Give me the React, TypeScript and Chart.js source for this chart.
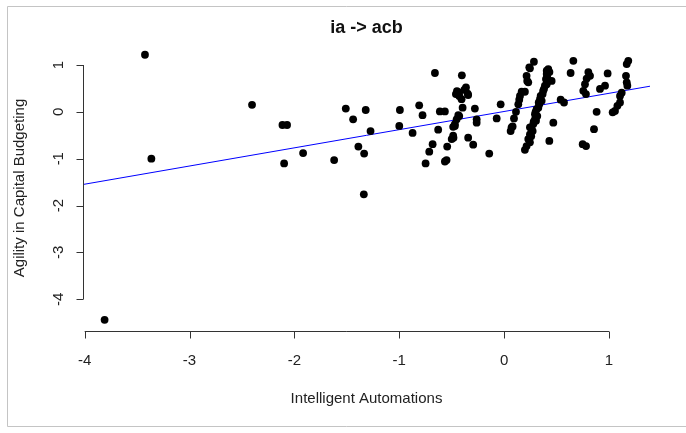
import React, { useEffect, useRef } from "react";
import { Chart, registerables } from "chart.js";

Chart.register(...registerables);

const TITLE = "ia -> acb";
const X_LABEL = "Intelligent Automations";
const Y_LABEL = "Agility in Capital Budgeting";

const xTicks = [-4, -3, -2, -1, 0, 1];
const yTicks = [-4, -3, -2, -1, 0, 1];

const X_MIN = -4.016;
const X_MAX = 1.391;
const Y_MIN = -4.7;
const Y_MAX = 1.449;

const fitIntercept = 0.008;
const fitSlope = 0.388;

const xVals = [
  -3.81, -3.425, -3.364, -2.404, -2.114, -2.07, -2.098, -1.917, -1.621, -1.338,
  -1.51, -1.44, -1.32, -1.274, -1.39, -1.335, -0.994, -1.0, -0.873, -0.81,
  -0.778, -0.66, -0.629, -0.613, -0.565, -0.682, -0.714, -0.749, -0.543, -0.565,
  -0.549, -0.483, -0.47, -0.453, -0.437, -0.46, -0.43, -0.406, -0.396, -0.403,
  -0.364, -0.348, -0.343, -0.295, -0.279, -0.262, -0.262, -0.142, -0.071, -0.033,
  0.062, 0.081, 0.094, 0.113, 0.144, 0.167, 0.151, 0.198, 0.214, 0.23,
  0.246, 0.284, 0.198, 0.431, 0.469, 0.539, 0.571, 0.66, 0.634, 0.803,
  0.787, 0.771, 0.755, 0.78, 0.882, 0.857, 0.749, 0.781, 0.987, 0.914,
  0.962, 1.184, 1.169, 1.162, 1.169, 1.175, 1.121, 1.105, 1.105, 1.08,
  1.057, 1.035, 0.819, -0.428, -0.343, -0.428, -0.486, -0.47, -0.486, -0.5,
  0.421, 0.406, 0.399, 0.406, 0.38, 0.367, 0.342, 0.335, 0.31, 0.294,
  0.294, 0.278, 0.262, 0.246, 0.23, 0.246, 0.214, 0.358, 0.326, 0.304,
  0.272, 0.389, 0.348, 0.316, 0.246, 0.453, 0.406, 0.24, 0.22, 0.135,
  0.071, 0.372, 0.33, 0.3, 0.282, 0.258, 0.41, 0.432, -0.45, -0.38,
];

const yVals = [
  -4.44, 1.22, -1.0, 0.15, -0.28, -0.28, -1.1, -0.88, -1.03, -1.76,
  0.07, -0.16, 0.04, -0.41, -0.74, -0.89, 0.04, -0.3, -0.45, 0.14,
  -0.07, 0.83, -0.38, 0.01, 0.01, -0.69, -0.85, -1.1, -0.74, -1.06,
  -1.03, -0.55, -0.3, -0.16, -0.07, 0.38, 0.41, 0.27, 0.09, 0.78,
  0.52, 0.39, -0.55, -0.7, 0.07, -0.16, -0.23, -0.89, -0.14, 0.16,
  -0.41, -0.31, -0.14, 0.0, 0.26, 0.43, 0.34, 0.43, 0.77, 0.63,
  0.93, 1.07, -0.81, -0.62, -0.23, 0.26, 0.2, 1.09, 0.83, 0.85,
  0.71, 0.59, 0.45, 0.38, 0.0, -0.37, -0.69, -0.73, 0.82, 0.49,
  0.56, 1.09, 1.02, 0.77, 0.63, 0.56, 0.41, 0.34, 0.2, 0.13,
  0.02, -0.01, 0.77, 0.34, 0.36, -0.09, -0.32, -0.26, -0.51, -0.58,
  0.91, 0.81, 0.7, 0.59, 0.49, 0.38, 0.27, 0.16, 0.06, -0.05,
  -0.16, -0.26, -0.37, -0.48, -0.58, -0.65, -0.73, 0.235, 0.09, -0.19,
  -0.41, 0.56, 0.34, -0.09, -0.33, 0.66, 0.88, 0.95, 0.66, 0.16,
  -0.33, 0.45, 0.2, 0.0, -0.21, -0.52, 0.75, 0.85, 0.44, 0.47,
];

const FONT = '"Liberation Sans", Arial, Helvetica, sans-serif';

const rAxesPlugin = {
  id: "rAxes",
  beforeDraw(chart: any) {
    const ctx = chart.ctx;
    ctx.save();
    ctx.fillStyle = "#ffffff";
    ctx.fillRect(0, 0, chart.width, chart.height);
    ctx.strokeStyle = "#c4c4c4";
    ctx.lineWidth = 1;
    ctx.beginPath();
    ctx.moveTo(chart.width, 6.5);
    ctx.lineTo(7.5, 6.5);
    ctx.lineTo(7.5, 426.5);
    ctx.lineTo(chart.width, 426.5);
    ctx.stroke();
    ctx.restore();
  },
  afterDraw(chart: any) {
    const ctx = chart.ctx;
    const xs = chart.scales.x;
    const ys = chart.scales.y;
    const area = chart.chartArea;
    ctx.save();
    ctx.strokeStyle = "#333333";
    ctx.lineWidth = 1;
    ctx.fillStyle = "#222222";
    ctx.font = `15px ${FONT}`;

    // x axis
    const yAx = Math.round(area.bottom) - 0.5;
    const x0 = xs.getPixelForValue(xTicks[0]);
    const x1 = xs.getPixelForValue(xTicks[xTicks.length - 1]);
    ctx.beginPath();
    ctx.moveTo(x0, yAx);
    ctx.lineTo(x1, yAx);
    for (const t of xTicks) {
      const px = Math.round(xs.getPixelForValue(t)) + 0.5;
      ctx.moveTo(px, yAx);
      ctx.lineTo(px, yAx + 7);
    }
    ctx.stroke();
    ctx.textAlign = "center";
    ctx.textBaseline = "middle";
    for (const t of xTicks) {
      ctx.fillText(String(t), xs.getPixelForValue(t), 361);
    }

    // y axis
    const xAx = Math.round(area.left) + 0.5;
    const yy0 = ys.getPixelForValue(yTicks[0]);
    const yy1 = ys.getPixelForValue(yTicks[yTicks.length - 1]);
    ctx.beginPath();
    ctx.moveTo(xAx, yy0);
    ctx.lineTo(xAx, yy1);
    for (const t of yTicks) {
      const py = Math.round(ys.getPixelForValue(t)) + 0.5;
      ctx.moveTo(xAx, py);
      ctx.lineTo(xAx - 7, py);
    }
    ctx.stroke();
    for (const t of yTicks) {
      ctx.save();
      ctx.translate(59, ys.getPixelForValue(t));
      ctx.rotate(-Math.PI / 2);
      ctx.textAlign = "center";
      ctx.textBaseline = "middle";
      ctx.fillText(String(t), 0, 0);
      ctx.restore();
    }

    // axis titles
    ctx.textAlign = "center";
    ctx.textBaseline = "alphabetic";
    ctx.fillText(X_LABEL, (area.left + area.right) / 2, 403);
    ctx.save();
    ctx.translate(24, (area.top + area.bottom) / 2);
    ctx.rotate(-Math.PI / 2);
    ctx.fillText(Y_LABEL, 0, 0);
    ctx.restore();
    ctx.restore();
  },
};

export default function App() {
  const canvasRef = useRef<HTMLCanvasElement | null>(null);

  useEffect(() => {
    const canvas = canvasRef.current;
    if (!canvas) return;
    const points = xVals.map((x, i) => ({ x, y: yVals[i] }));
    const fitLine = [
      { x: X_MIN, y: fitIntercept + fitSlope * X_MIN },
      { x: X_MAX, y: fitIntercept + fitSlope * X_MAX },
    ];
    const chart = new Chart(canvas, {
      type: "scatter",
      data: {
        datasets: [
          {
            type: "line",
            data: fitLine,
            borderColor: "#0000ff",
            borderWidth: 1,
            pointRadius: 0,
            fill: false,
            order: 2,
          } as any,
          {
            data: points,
            backgroundColor: "#000000",
            borderColor: "#000000",
            borderWidth: 0,
            pointRadius: 3.9,
            pointHoverRadius: 3.9,
            order: 1,
          },
        ],
      },
      options: {
        animation: false,
        responsive: false,
        devicePixelRatio: 1,
        events: [],
        layout: { padding: { left: 83, right: 36, top: 0, bottom: 101 } },
        plugins: {
          legend: { display: false },
          tooltip: { enabled: false },
          title: {
            display: true,
            text: TITLE,
            color: "#111111",
            font: { family: FONT, size: 18, weight: "bold" },
            padding: { top: 17, bottom: 5.4 },
          },
        },
        scales: {
          x: { type: "linear", min: X_MIN, max: X_MAX, display: false },
          y: { type: "linear", min: Y_MIN, max: Y_MAX, display: false },
        },
      },
      plugins: [rAxesPlugin],
    });
    return () => chart.destroy();
  }, []);

  return (
    <div style={{ position: "absolute", left: 0, top: 0, width: 686, height: 433, background: "#fff" }}>
      <canvas ref={canvasRef} width={686} height={433} style={{ display: "block" }} />
    </div>
  );
}
